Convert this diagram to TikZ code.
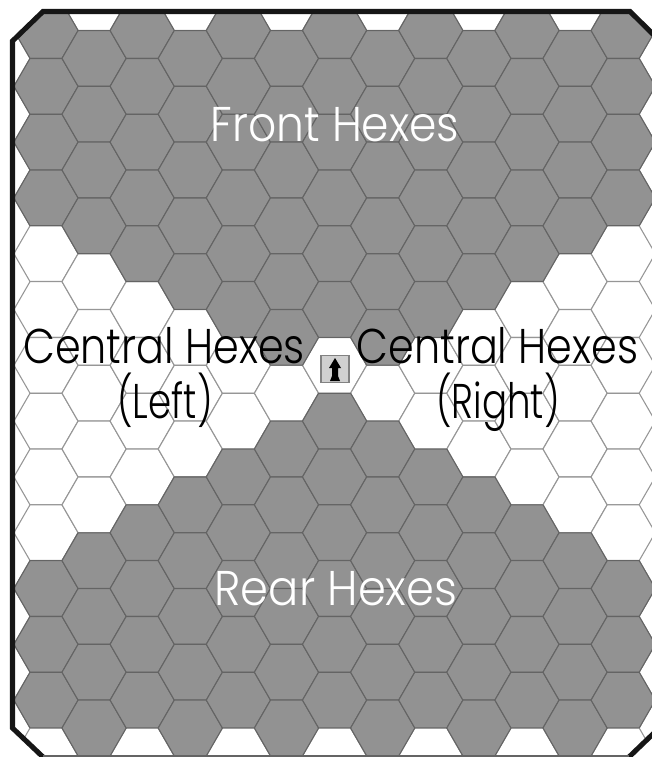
\documentclass[tikz,border=0pt]{standalone}
\usepackage{fontspec}
\setmainfont{Poppins Light}
\usepackage{xcolor}
\usetikzlibrary{shapes.geometric}
\definecolor{hexgray}{RGB}{146,146,146}
\definecolor{hexedge}{RGB}{100,100,100}
\definecolor{paleedge}{RGB}{150,150,150}
\definecolor{rimblack}{RGB}{22,22,22}
\definecolor{counterfill}{RGB}{208,208,208}
\definecolor{counteredge}{RGB}{130,130,130}
\tikzset{
  cell/.style={regular polygon, regular polygon sides=6, minimum size=48.15pt, inner sep=0pt, outer sep=0pt},
  whitecell/.style={cell, draw=paleedge, fill=white, line width=0.8pt},
  graycell/.style={cell, draw=hexedge, fill=hexgray, line width=0.8pt},
  zonelabel/.style={inner sep=0pt, anchor=base, font=\fontsize{31}{31}\selectfont, yscale=1.18, transform shape},
}
% column / last front row / first rear row
\def\hexcolumns{0/7/21,1/8/20,2/9/19,3/10/18,4/11/17,5/12/16,6/11/15,7/12/16,8/11/17,9/10/18,10/9/19,11/8/20,12/7/21}

\begin{document}
\begin{tikzpicture}[x=0.75pt, y=-0.75pt]
  \useasboundingbox (0,0) rectangle (652,757);
  \begin{scope}
    \clip (12,41) -- (43,11) -- (630,11) -- (660,41) -- (660,727) -- (629,756) -- (43,756) -- (12,728) -- cycle;
    % board
    \foreach \col/\upto/\from in \hexcolumns
      \foreach \row in {0,...,27} {
        \pgfmathtruncatemacro\oddcell{mod(\col+\row,2)}
        \ifnum\oddcell=1
          \node[whitecell] (w-\col-\row) at ({46+48.1*\col},{2.6+27.9*\row}) {};
        \fi
      }
    \foreach \col/\upto/\from in \hexcolumns
      \foreach \row in {1,...,26} {
        \pgfmathtruncatemacro\oddcell{mod(\col+\row,2)}
        \pgfmathtruncatemacro\front{\row<=\upto}
        \pgfmathtruncatemacro\rear{\row>=\from}
        \ifnum\oddcell=1
          \ifnum\front\rear>0
            \node[graycell] (g-\col-\row) at ({46+48.1*\col},{2.6+27.9*\row}) {};
          \fi
        \fi
      }
  \end{scope}
  % rim
  \draw[rimblack, line width=3.8pt, miter limit=2] (43,757) -- (12.5,728) -- (12.5,41) -- (43,11.5) -- (630,11.5) -- (665,46);
  \draw[rimblack, line width=3.8pt] (655,732) -- (629,757);
  \draw[hexedge, line width=1pt] (43,756) -- (629,756);
  % counter
  \node[draw=counteredge, fill=counterfill, line width=1.2pt, minimum width=21pt, minimum height=20pt, inner sep=0pt] (counter) at (335,369) {};
  \fill[black] (335,358) -- (341,368) -- (338,368) -- (338,376) -- (340,381) -- (330,381) -- (332,376) -- (332,368) -- (329,368) -- cycle;
  % labels
  \node[zonelabel, white, xscale=1.065] (front) at (335,141) {Front Hexes};
  \node[zonelabel, white, xscale=1.085] (rear) at (336,605) {Rear Hexes};
  \node[zonelabel] (centralleft) at (164,363) {Central Hexes};
  \node[zonelabel, xscale=0.9] (left) at (165,418) {(Left)};
  \node[zonelabel] (centralright) at (497.5,363) {Central Hexes};
  \node[zonelabel, xscale=0.9] (right) at (498,418) {(Right)};
\end{tikzpicture}
\end{document}
